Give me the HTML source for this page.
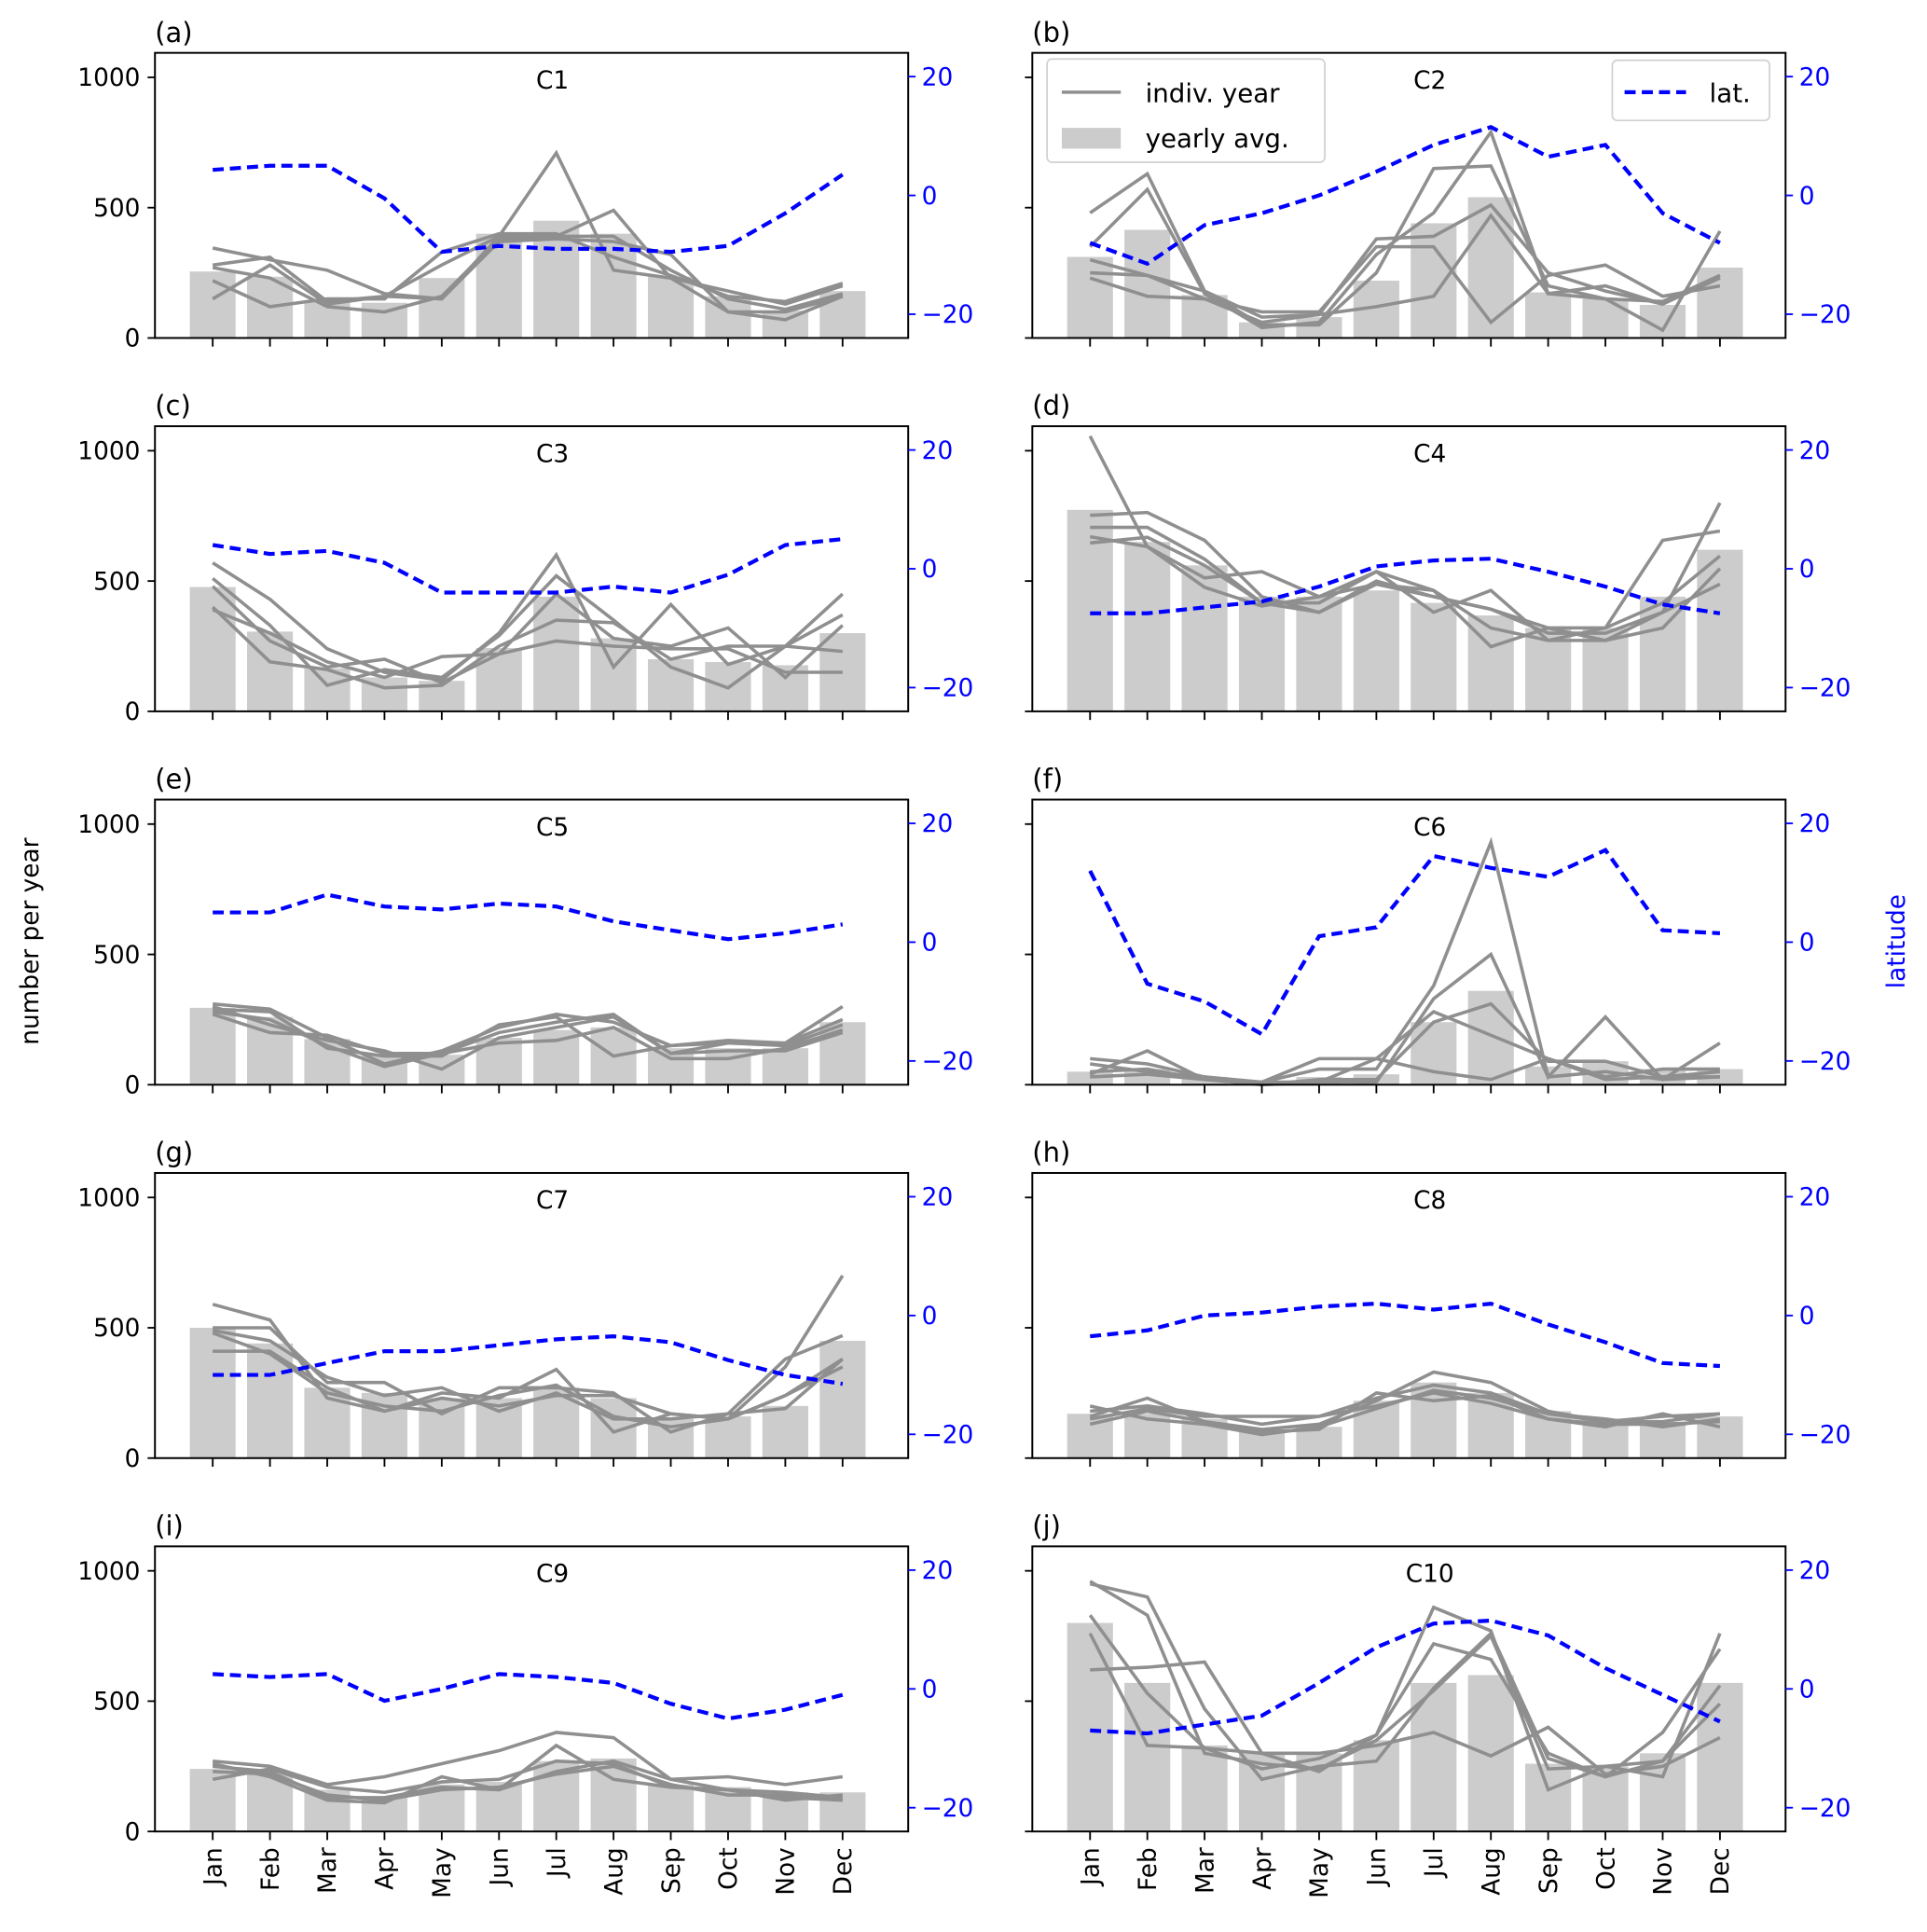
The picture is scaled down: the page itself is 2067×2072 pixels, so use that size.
<!DOCTYPE html>
<html><head><meta charset="utf-8"><style>
html,body{margin:0;padding:0;background:#fff;}
svg{display:block;font-family:"DejaVu Sans","Liberation Sans",sans-serif;}
</style></head><body>
<svg id="fig" width="2067" height="2072" viewBox="0 0 1568 1572" xmlns="http://www.w3.org/2000/svg"></svg>
<script>
const months = ["Jan","Feb","Mar","Apr","May","Jun","Jul","Aug","Sep","Oct","Nov","Dec"];
const panelLabels = ["(a)","(b)","(c)","(d)","(e)","(f)","(g)","(h)","(i)","(j)"];
const panelTitles = ["C1","C2","C3","C4","C5","C6","C7","C8","C9","C10"];
const leftTicks = [0,500,1000];
const rightTicks = [-20,0,20];
const barsA=[255,235,145,135,230,400,450,400,235,160,105,180];
const barsB=[311,415,165,60,80,220,440,540,175,150,127,270];
const barsC=[477,306,165,130,117,243,440,280,200,189,177,300];
const barsD=[773,650,560,440,440,464,416,368,320,320,440,620];
const barsE=[295,260,175,110,115,180,210,220,140,140,140,240];
const barsF=[50,60,30,10,30,40,240,360,70,90,60,60];
const barsG=[500,440,270,250,230,230,270,230,150,160,200,450];
const barsH=[170,170,150,110,120,220,290,250,180,150,130,160];
const barsI=[240,220,160,130,180,190,270,280,180,170,150,150];
const barsJ=[800,570,330,300,300,350,570,600,260,250,300,570];
const yearsA=[[345,300,260,170,150,390,390,490,230,180,130,200],[280,310,140,160,280,390,710,260,230,100,100,160],[150,280,130,160,150,370,380,370,320,100,70,160],[220,120,150,150,330,400,400,310,240,160,140,210],[270,230,120,100,160,380,390,390,260,150,110,170]];
const yearsB=[[480,630,180,50,50,250,650,660,200,150,140,240],[350,570,170,40,60,320,480,790,170,200,130,230],[250,240,150,60,90,380,390,510,250,180,130,240],[230,160,150,100,100,350,350,60,240,280,160,200],[300,240,180,80,90,120,160,470,170,150,30,410]];
const yearsC=[[570,430,240,150,120,300,600,170,410,180,250,450],[510,330,100,160,130,290,520,350,170,90,250,370],[480,270,170,200,110,220,450,280,250,320,130,330],[400,190,160,90,100,250,350,340,200,250,250,230],[390,300,190,130,210,220,270,250,240,240,150,150]];
const yearsD=[[1056,632,476,404,440,536,464,320,272,272,380,800],[752,763,656,440,380,488,440,392,320,320,656,692],[706,706,584,416,416,536,380,464,272,320,416,596],[670,632,512,536,440,488,464,248,320,272,320,548],[646,668,560,416,380,500,440,392,300,300,380,488]];
const yearsE=[[310,290,180,80,130,220,270,240,150,170,160,300],[300,230,170,130,60,180,220,260,120,160,150,230],[270,200,190,120,120,160,170,220,100,100,140,210],[290,280,140,110,110,230,260,110,150,160,160,250],[280,250,150,70,120,200,240,270,120,130,130,200]];
const yearsF=[[100,80,30,10,60,60,380,930,30,260,20,160],[50,60,20,10,10,10,330,500,30,50,20,30],[40,130,20,0,10,100,280,190,100,20,30,50],[30,40,20,10,100,100,50,20,100,30,60,60],[80,50,30,0,20,20,240,310,90,90,30,30]];
const yearsG=[[590,530,230,180,250,230,340,100,170,150,350,700],[500,500,290,290,170,270,270,250,100,170,380,470],[410,410,270,180,230,200,240,240,170,150,240,380],[490,450,310,240,270,180,250,150,150,170,190,380],[480,400,250,200,180,240,280,160,120,150,240,350]];
const yearsH=[[130,180,140,110,130,220,330,290,180,140,140,170],[150,190,160,160,160,230,280,250,170,150,120,150],[180,200,170,130,160,200,250,210,150,130,130,140],[160,230,140,100,110,250,220,240,150,120,170,120],[200,150,130,90,120,190,260,230,170,140,160,170]];
const yearsI=[[270,250,180,210,260,310,380,360,200,210,180,210],[200,240,170,150,190,200,270,260,170,160,150,130],[250,230,130,130,170,160,330,200,170,160,130,120],[260,210,120,110,210,160,230,270,200,160,120,140],[230,220,140,120,160,170,220,250,180,140,140,120]];
const yearsJ=[[950,900,470,200,250,270,550,760,280,210,380,700],[960,830,300,260,240,350,540,750,240,250,270,560],[830,530,320,240,280,370,860,770,160,250,210,760],[620,630,650,300,230,370,720,660,300,210,270,490],[760,330,320,300,300,330,380,290,400,220,250,360]];
const latA=[4.3,5,5,-0.5,-9.5,-8.5,-9,-9,-9.5,-8.5,-3,3.5];
const latB=[-8,-11.5,-5,-3,0,4,8.5,11.5,6.5,8.5,-3,-8];
const latC=[4,2.5,3,1,-4,-4,-4,-3,-4,-1,4,5];
const latD=[-7.5,-7.5,-6.5,-5.5,-3,0.4,1.4,1.7,-0.5,-3,-6,-7.5];
const latE=[5,5,8,6,5.5,6.5,6,3.5,2,0.5,1.5,3];
const latF=[12,-7,-10,-15.5,1,2.5,14.5,12.5,11,15.5,2,1.5];
const latG=[-10,-10,-8,-6,-6,-5,-4,-3.5,-4.5,-7.5,-10,-11.5];
const latH=[-3.5,-2.5,0,0.5,1.5,2,1,2,-1.5,-4.5,-8,-8.5];
const latI=[2.5,2,2.5,-2,0,2.5,2,1,-2.5,-5,-3.5,-1];
const latJ=[-7,-7.5,-6,-4.5,1,7,11,11.5,9,3.5,-1,-5.5];

const allBars=[barsA,barsB,barsC,barsD,barsE,barsF,barsG,barsH,barsI,barsJ];
const allYears=[yearsA,yearsB,yearsC,yearsD,yearsE,yearsF,yearsG,yearsH,yearsI,yearsJ];
const allLat=[latA,latB,latC,latD,latE,latF,latG,latH,latI,latJ];

const NS="http://www.w3.org/2000/svg";
const svg=document.getElementById('fig');
function mk(tag,attrs,parent,text){const e=document.createElementNS(NS,tag);for(const k in attrs)e.setAttribute(k,attrs[k]);if(text!==undefined)e.textContent=text;(parent||svg).appendChild(e);return e;}

const W=613,H=232,STEP=46.6;
for(let p=0;p<10;p++){
  const col=p%2,row=Math.floor(p/2);
  const L=col?840:126, T=43+row*303.8;
  const g=mk('g',{});
  
  
  const xs=i=>L+47+i*STEP;
  const yl=v=>T+H-v*(H/1094);
  const yr=v=>T+H/2-v*(H/48);
  allBars[p].forEach((v,i)=>{
    const r=mk('rect',{x:xs(i)-STEP*0.4,y:yl(v),width:STEP*0.8,height:yl(0)-yl(v),fill:'#cccccc'},g);
    
    
  });
  allYears[p].forEach((arr,k)=>{
    const pl=mk('polyline',{points:arr.map((v,i)=>xs(i)+','+yl(v)).join(' '),fill:'none',stroke:'#8f8f8f','stroke-width':2.7,'stroke-linejoin':'miter'},g);
    
    
  });
  const lat=mk('polyline',{points:allLat[p].map((v,i)=>xs(i)+','+yr(v)).join(' '),fill:'none',stroke:'#0000ff','stroke-width':3.2,'stroke-dasharray':'9,5'},g);
  
  
  const fr=mk('rect',{x:L,y:T,width:W,height:H,fill:'none',stroke:'#000','stroke-width':1.5},g);
  
  
  leftTicks.forEach(v=>{
    mk('line',{x1:L-6,x2:L,y1:yl(v),y2:yl(v),stroke:'#000','stroke-width':1.4},g);
    if(!col){const t=mk('text',{x:L-12,y:yl(v)+7,'text-anchor':'end','font-size':20,fill:'#000'},g,String(v));
      
      }
  });
  rightTicks.forEach(v=>{
    mk('line',{x1:L+W,x2:L+W+6,y1:yr(v),y2:yr(v),stroke:'#0000ff','stroke-width':1.4},g);
    const t=mk('text',{x:L+W+11,y:yr(v)+7,'font-size':20,fill:'#0000ff'},g,(v<0?'\u2212'+(-v):String(v)));
    
    
  });
  months.forEach((m,i)=>{
    mk('line',{x1:xs(i),x2:xs(i),y1:T+H,y2:T+H+7,stroke:'#000','stroke-width':1.4},g);
    if(row===4){const t=mk('text',{x:0,y:0,transform:`translate(${xs(i)+7},${T+H+13}) rotate(-90)`,'text-anchor':'end','font-size':20,fill:'#000'},g,m);
      
      }
  });
  const pl=mk('text',{x:L,y:T-9,'font-size':22,fill:'#000'},g,panelLabels[p]);
  
  
  const tt=mk('text',{x:L+W/2+17,y:T+29,'text-anchor':'middle','font-size':20,fill:'#000'},g,panelTitles[p]);
  
  
}
const yt=mk('text',{x:0,y:0,transform:'translate(31,766) rotate(-90)','text-anchor':'middle','font-size':20,fill:'#000'},svg,'number per year');


const rt=mk('text',{x:0,y:0,transform:'translate(1550,766) rotate(-90)','text-anchor':'middle','font-size':20,fill:'#0000ff'},svg,'latitude');


const lg=mk('g',{});


mk('rect',{x:852,y:48,width:226,height:84,rx:4,fill:'#fff','fill-opacity':0.8,stroke:'#d0d0d0','stroke-width':1.3},lg);
mk('line',{x1:864,x2:912,y1:75,y2:75,stroke:'#8f8f8f','stroke-width':2.7},lg);
const l1=mk('text',{x:932,y:83,'font-size':21,fill:'#000'},lg,'indiv. year');


mk('rect',{x:864,y:104,width:48,height:17,fill:'#cccccc'},lg);
const l2=mk('text',{x:932,y:120,'font-size':21,fill:'#000'},lg,'yearly avg.');


const lg2=mk('g',{});


mk('rect',{x:1312,y:49,width:128,height:49,rx:4,fill:'#fff','fill-opacity':0.8,stroke:'#d0d0d0','stroke-width':1.3},lg2);
mk('line',{x1:1322,x2:1372,y1:75,y2:75,stroke:'#0000ff','stroke-width':3.2,'stroke-dasharray':'9,5'},lg2);
const l3=mk('text',{x:1391,y:83,'font-size':21,fill:'#000'},lg2,'lat.');


</script>
</body></html>
